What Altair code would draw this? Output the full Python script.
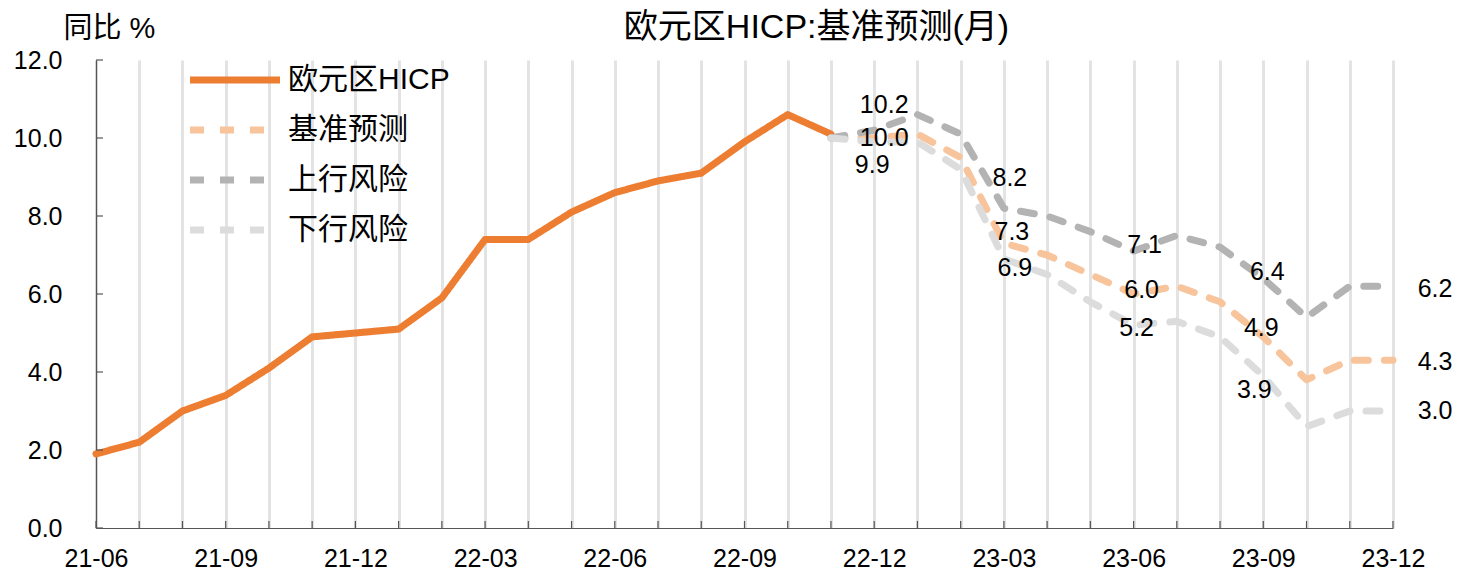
import altair as alt
import pandas as pd

months = ["21-06", "21-07", "21-08", "21-09", "21-10", "21-11", "21-12",
          "22-01", "22-02", "22-03", "22-04", "22-05", "22-06", "22-07",
          "22-08", "22-09", "22-10", "22-11", "22-12",
          "23-01", "23-02", "23-03", "23-04", "23-05", "23-06", "23-07",
          "23-08", "23-09", "23-10", "23-11", "23-12"]

hicp_months = months[:18]
hicp = [1.9, 2.2, 3.0, 3.4, 4.1, 4.9, 5.0, 5.1, 5.9, 7.4, 7.4, 8.1, 8.6,
        8.9, 9.1, 9.9, 10.6, 10.1]

fc_months = months[17:]
baseline = [10.0, 10.0, 10.1, 9.5, 7.3, 7.0, 6.5, 6.0, 6.2, 5.8, 4.9, 3.8, 4.3, 4.3]
upper = [10.0, 10.2, 10.6, 10.1, 8.2, 8.0, 7.6, 7.1, 7.5, 7.2, 6.4, 5.4, 6.2, 6.2]
lower = [10.0, 9.9, 9.9, 9.2, 6.9, 6.5, 5.8, 5.2, 5.3, 4.9, 3.9, 2.6, 3.0, 3.0]

series_names = ["欧元区HICP", "基准预测", "上行风险", "下行风险"]
series_colors = ["#ED7D31", "#F8C49C", "#B3B3B3", "#DCDCDC"]

label_months = ["22-12", "22-12", "22-12", "23-03", "23-03", "23-03",
                "23-06", "23-06", "23-06", "23-09", "23-09", "23-09",
                "23-12", "23-12", "23-12"]
label_values = [10.2, 10.0, 9.9, 8.2, 7.3, 6.9, 7.1, 6.0, 5.2, 6.4, 4.9, 3.9,
                6.2, 4.3, 3.0]
# pixel offsets of each label from its point (style, not data)
label_offsets = [(10, -25), (10, 0), (-2, 23), (6, -30), (8, -11), (11, 9),
                 (11, -6), (8, -4), (3, 3), (4, -6), (-2, -9), (-9, 14),
                 (42, 3), (42, 2), (42, 0)]

y_ticks = [0, 2, 4, 6, 8, 10, 12]

FONT = "Liberation Sans, Arial, Noto Sans CJK SC"
W, H = 1297, 468

rows = []
for m, v in zip(hicp_months, hicp):
    rows.append({"month": m, "value": v, "series": series_names[0], "order": 0})
for name, vals, o in [(series_names[1], baseline, 1), (series_names[2], upper, 2),
                      (series_names[3], lower, 3)]:
    for m, v in zip(fc_months, vals):
        rows.append({"month": m, "value": v, "series": name, "order": o})
df = pd.DataFrame(rows)

x_enc = alt.X(
    "month:O",
    scale=alt.Scale(type="point", domain=months, padding=0),
    sort=months,
    axis=alt.Axis(
        title=None,
        grid=True, gridColor="#E3E3E3", gridWidth=3,
        ticks=False, labelAngle=0,
        labelExpr="indexof(['03','06','09','12'], slice(datum.label, 3)) >= 0 ? datum.label : ''",
        labelFontSize=25, labelFont=FONT, labelColor="#000000",
        labelPadding=18, labelOverlap=False,
        domainColor="#555555", domainWidth=1.2,
    ),
)
y_enc = alt.Y(
    "value:Q",
    scale=alt.Scale(domain=[0, 12], nice=False, zero=True),
    axis=alt.Axis(
        title="同比 %", titleAngle=0, titleX=-33, titleY=-23,
        titleAlign="left", titleBaseline="alphabetic",
        titleFontSize=29, titleFont=FONT, titleFontWeight="normal",
        titleColor="#000000",
        values=y_ticks, format=".1f", grid=False, ticks=False,
        labelFontSize=25, labelFont=FONT, labelColor="#000000",
        labelPadding=34,
        domainColor="#555555", domainWidth=1.2,
    ),
)

legend = alt.Legend(
    title=None, orient="none", legendX=113, legendY=-6,
    symbolType="M-2,0H2", symbolSize=2025, symbolStrokeWidth=7,
    labelFontSize=30, labelFont=FONT, labelColor="#000000",
    labelOffset=27, rowPadding=9, labelLimit=0,
)

lines = alt.Chart(df).mark_line(strokeWidth=7, strokeCap="round", strokeJoin="round").encode(
    x=x_enc,
    y=y_enc,
    color=alt.Color("series:N", scale=alt.Scale(domain=series_names, range=series_colors),
                    legend=legend),
    strokeDash=alt.StrokeDash("series:N",
                              scale=alt.Scale(domain=series_names,
                                              range=[[1, 0], [14, 16], [14, 16], [14, 16]]),
                              legend=legend),
    order=alt.Order("order:Q"),
)

month_df = pd.DataFrame({"month": months})
xticks = alt.Chart(month_df).mark_rule(color="#555555", strokeWidth=1.2).encode(
    x=x_enc, y=alt.value(H), y2=alt.value(H - 7)
)
ytick_df = pd.DataFrame({"value": y_ticks})
yticks = alt.Chart(ytick_df).mark_rule(color="#555555", strokeWidth=1.2).encode(
    y=y_enc, x=alt.value(0), x2=alt.value(7)
)

label_layers = []
for m, v, (dx, dy) in zip(label_months, label_values, label_offsets):
    ldf = pd.DataFrame({"month": [m], "value": [v], "text": [f"{v:.1f}"]})
    label_layers.append(
        alt.Chart(ldf).mark_text(dx=dx, dy=dy, fontSize=25, font=FONT,
                                 color="#000000", align="center", baseline="middle").encode(
            x=x_enc, y=y_enc, text="text:N"
        )
    )

chart = alt.layer(lines, xticks, yticks, *label_layers).properties(
    width=W, height=H,
    title=alt.TitleParams(text="欧元区HICP:基准预测(月)", fontSize=34, font=FONT,
                          fontWeight="normal", color="#000000", anchor="middle",
                          dx=72, offset=-31),
    autosize=alt.AutoSizeParams(type="none"),
    padding={"left": 88, "top": 52, "right": 59, "bottom": 45},
).configure_view(stroke=None)

chart.save("out.html", embed_options={"renderer": "svg", "actions": False})
